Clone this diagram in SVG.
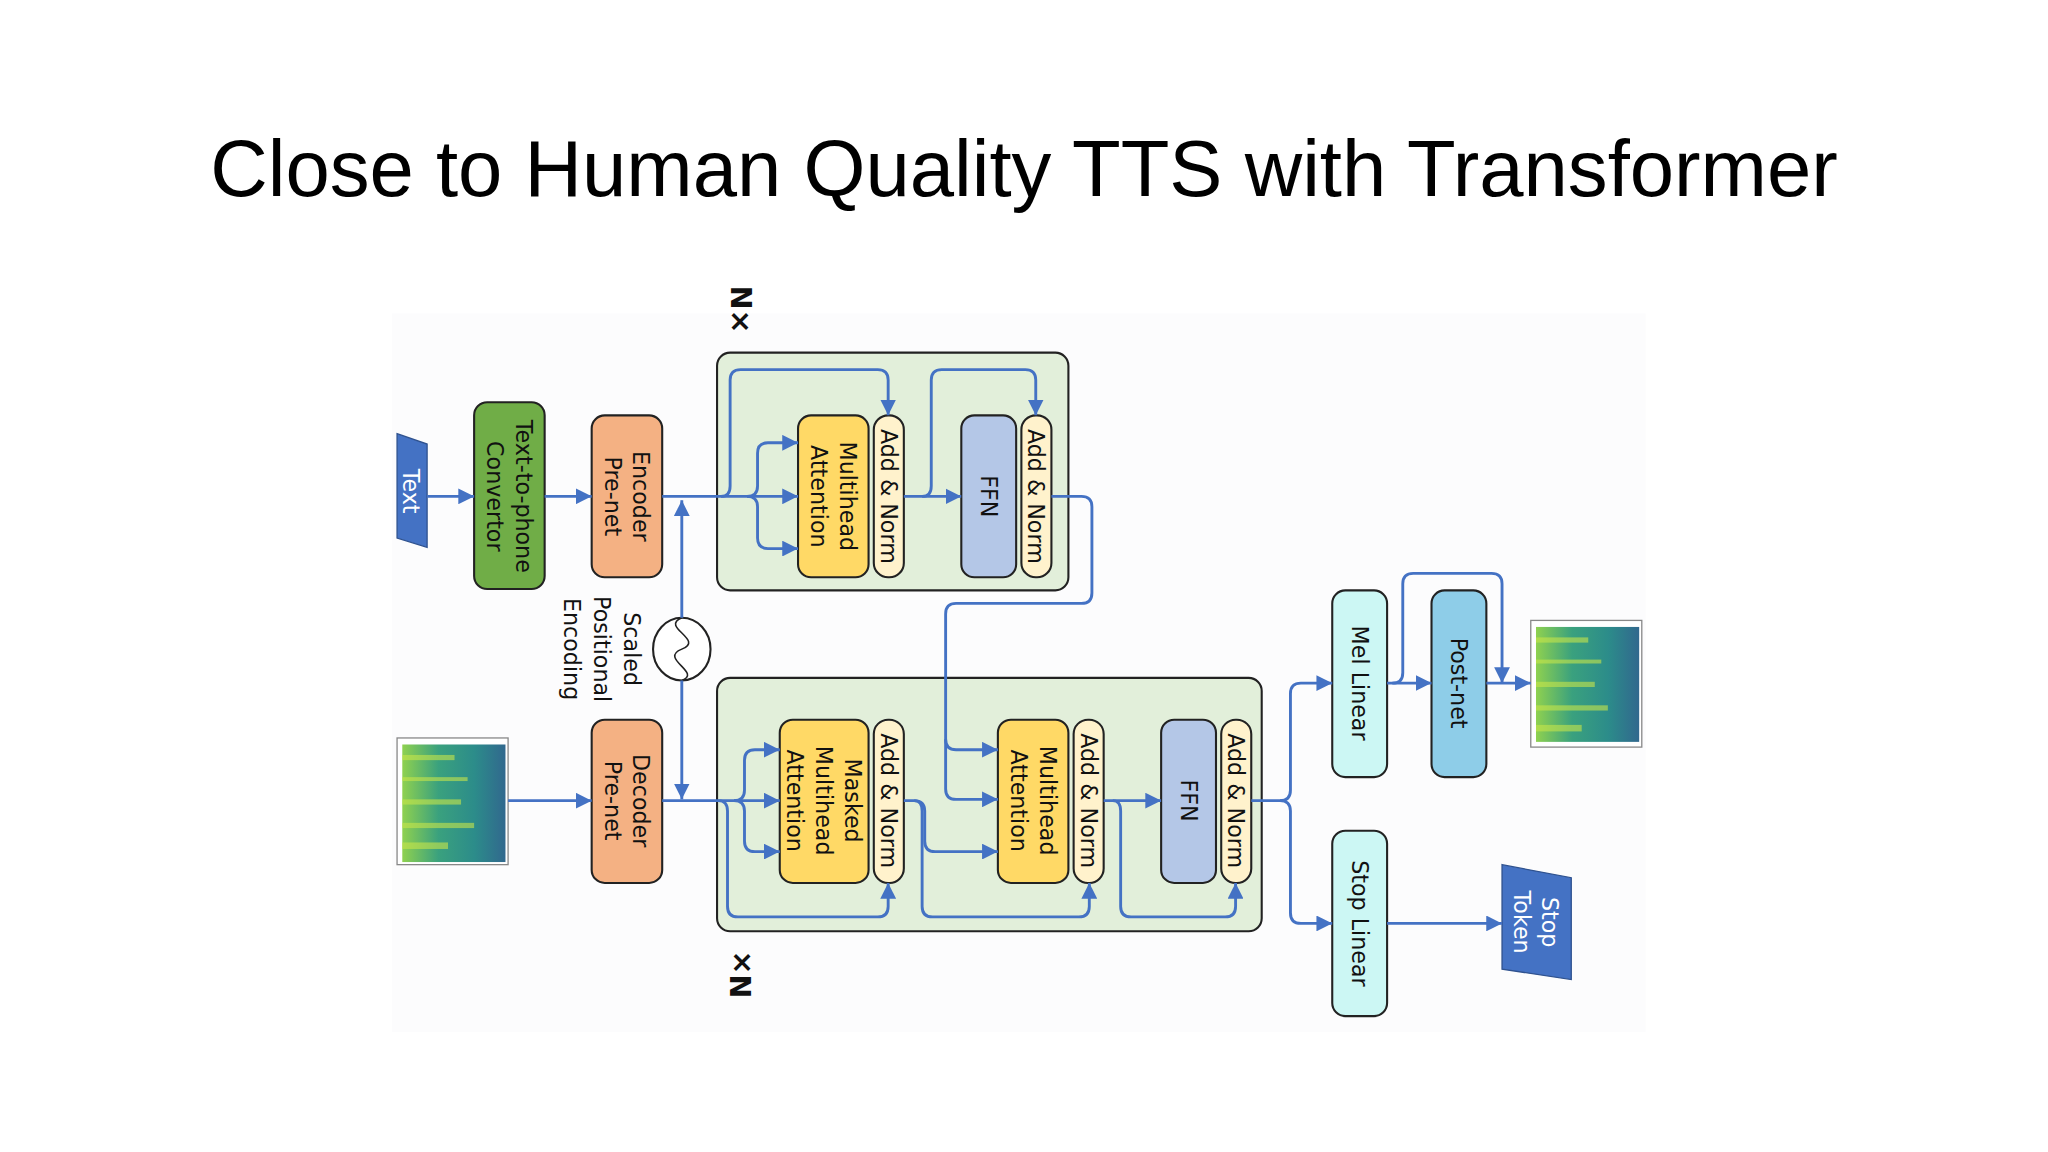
<svg xmlns="http://www.w3.org/2000/svg" width="2048" height="1152" viewBox="0 0 2048 1152">
<defs>
<marker id="ar" viewBox="0 0 10 10" markerWidth="5.5" markerHeight="5.5" refX="10" refY="5" orient="auto"><path d="M0 0L10 5L0 10z" fill="#4472c4"/></marker>
<linearGradient id="spec" x1="0" y1="0" x2="1" y2="0"><stop offset="0" stop-color="#8fd14f"/><stop offset="0.35" stop-color="#3aa17e"/><stop offset="0.7" stop-color="#2c8c8a"/><stop offset="1" stop-color="#31688e"/></linearGradient>
</defs>
<style>
.n{stroke:#222;stroke-width:1.6}
.t{font-family:"DejaVu Sans",Verdana,sans-serif;font-size:17px;fill:#111;text-anchor:middle;dominant-baseline:central}
.c{fill:none;stroke:#4472c4;stroke-width:2.2}
.a{marker-end:url(#ar)}
</style>
<rect width="2048" height="1152" fill="#fff"/>
<g transform="scale(1.30612)">
<text x="784" y="150" font-family="Liberation Sans,Arial,sans-serif" font-size="61" text-anchor="middle" fill="#000">Close to Human Quality TTS with Transformer</text>
<rect x="300" y="240" width="960" height="550" fill="#fcfcfd"/>
<g id="enc-block"><rect class="n" x="549" y="270" width="269" height="182" rx="10" fill="#e2efda"/></g>
<g id="dec-block"><rect class="n" x="549" y="519" width="417" height="194" rx="10" fill="#e2efda"/></g>
<text class="t" transform="translate(567,237) rotate(90)" font-weight="bold" style="font-size:22px">N×</text>
<text class="t" transform="translate(567,746) rotate(-90)" font-weight="bold" style="font-size:22px">N×</text>
<g id="text"><path d="M304 332L327 340V419L304 412Z" fill="#4472c4" stroke="#2f528f" stroke-width="1"/><text class="t" transform="translate(315,376) rotate(90)" style="fill:#fff">Text</text></g>
<g id="t2p"><rect class="n" x="363" y="308" width="54" height="143" rx="10" fill="#70ad47"/><text class="t" transform="translate(390,380) rotate(90)"><tspan x="0" y="-11">Text-to-phone</tspan><tspan x="0" y="11">Convertor</tspan></text></g>
<g id="encpre"><rect class="n" x="453" y="318" width="54" height="124" rx="10" fill="#f4b183"/><text class="t" transform="translate(480,380) rotate(90)"><tspan x="0" y="-11">Encoder</tspan><tspan x="0" y="11">Pre-net</tspan></text></g>
<g id="enc-mha"><rect class="n" x="611" y="318" width="54" height="124" rx="10" fill="#ffd966"/><text class="t" transform="translate(638,380) rotate(90)"><tspan x="0" y="-11">Multihead</tspan><tspan x="0" y="11">Attention</tspan></text></g>
<g id="enc-an1"><rect class="n" x="669" y="318" width="23" height="124" rx="11" fill="#fff2cc"/><text class="t" transform="translate(680.5,380) rotate(90)">Add &amp; Norm</text></g>
<g id="enc-ffn"><rect class="n" x="736" y="318" width="42" height="124" rx="10" fill="#b4c7e7"/><text class="t" transform="translate(757,380) rotate(90)">FFN</text></g>
<g id="enc-an2"><rect class="n" x="782" y="318" width="23" height="124" rx="11" fill="#fff2cc"/><text class="t" transform="translate(793.5,380) rotate(90)">Add &amp; Norm</text></g>
<g id="posenc"><ellipse cx="522" cy="497" rx="22" ry="24" fill="#fff" stroke="#222" stroke-width="1.6"/><path d="M522 473C505 480 540 490 522 497S538 515 522 521" fill="none" stroke="#222" stroke-width="1.2"/><text class="t" transform="translate(461,497) rotate(90)"><tspan x="0" y="-23">Scaled</tspan><tspan x="0" y="0">Positional</tspan><tspan x="0" y="23">Encoding</tspan></text></g>
<g id="spec-in"><rect x="304" y="565" width="85" height="97" fill="#fff" stroke="#888"/><rect x="308" y="570" width="79" height="90" fill="url(#spec)"/><g fill="#c8e64a" opacity="0.6"><rect x="308" y="578" width="40" height="4"/><rect x="308" y="595" width="50" height="3"/><rect x="308" y="612" width="45" height="4"/><rect x="308" y="630" width="55" height="4"/><rect x="308" y="645" width="35" height="5"/></g></g>
<g id="decpre"><rect class="n" x="453" y="551" width="54" height="125" rx="10" fill="#f4b183"/><text class="t" transform="translate(480,613) rotate(90)"><tspan x="0" y="-11">Decoder</tspan><tspan x="0" y="11">Pre-net</tspan></text></g>
<g id="dec-mmha"><rect class="n" x="597" y="551" width="68" height="125" rx="10" fill="#ffd966"/><text class="t" transform="translate(631,613) rotate(90)"><tspan x="0" y="-22">Masked</tspan><tspan x="0" y="0">Multihead</tspan><tspan x="0" y="22">Attention</tspan></text></g>
<g id="dec-an1"><rect class="n" x="669" y="551" width="23" height="125" rx="11" fill="#fff2cc"/><text class="t" transform="translate(680.5,613) rotate(90)">Add &amp; Norm</text></g>
<g id="dec-mha"><rect class="n" x="764" y="551" width="54" height="125" rx="10" fill="#ffd966"/><text class="t" transform="translate(791,613) rotate(90)"><tspan x="0" y="-11">Multihead</tspan><tspan x="0" y="11">Attention</tspan></text></g>
<g id="dec-an2"><rect class="n" x="822" y="551" width="23" height="125" rx="11" fill="#fff2cc"/><text class="t" transform="translate(833.5,613) rotate(90)">Add &amp; Norm</text></g>
<g id="dec-ffn"><rect class="n" x="889" y="551" width="42" height="125" rx="10" fill="#b4c7e7"/><text class="t" transform="translate(910,613) rotate(90)">FFN</text></g>
<g id="dec-an3"><rect class="n" x="935" y="551" width="23" height="125" rx="11" fill="#fff2cc"/><text class="t" transform="translate(946.5,613) rotate(90)">Add &amp; Norm</text></g>
<g id="mel"><rect class="n" x="1020" y="452" width="42" height="143" rx="10" fill="#ccf7f4"/><text class="t" transform="translate(1041,523) rotate(90)">Mel Linear</text></g>
<g id="post"><rect class="n" x="1096" y="452" width="42" height="143" rx="10" fill="#8ecde8"/><text class="t" transform="translate(1117,523) rotate(90)">Post-net</text></g>
<g id="stop"><rect class="n" x="1020" y="636" width="42" height="142" rx="10" fill="#ccf7f4"/><text class="t" transform="translate(1041,707) rotate(90)">Stop Linear</text></g>
<g id="spec-out"><rect x="1172" y="475" width="85" height="97" fill="#fff" stroke="#888"/><rect x="1176" y="480" width="79" height="88" fill="url(#spec)"/><g fill="#c8e64a" opacity="0.6"><rect x="1176" y="488" width="40" height="4"/><rect x="1176" y="505" width="50" height="3"/><rect x="1176" y="522" width="45" height="4"/><rect x="1176" y="540" width="55" height="4"/><rect x="1176" y="555" width="35" height="5"/></g></g>
<g id="stoptoken"><path d="M1150 662L1203 672V750L1150 742Z" fill="#4472c4" stroke="#2f528f" stroke-width="1"/><text class="t" transform="translate(1176,706) rotate(90)" style="fill:#fff"><tspan x="0" y="-11">Stop</tspan><tspan x="0" y="11">Token</tspan></text></g>
<g id="connectors">
<path class="c a" d="M327 380H363"/>
<path class="c a" d="M417 380H453"/>
<path class="c a" d="M507 380H611"/>
<path class="c a" d="M572 380Q580 380 580 372V347Q580 339 588 339H611"/>
<path class="c a" d="M572 380Q580 380 580 388V412Q580 420 588 420H611"/>
<path class="c a" d="M552 380Q559 380 559 372V291Q559 283 567 283H672Q680 283 680 291V318"/>
<path class="c a" d="M692 380H736"/>
<path class="c a" d="M706 380Q713 380 713 372V291Q713 283 721 283H785Q793 283 793 291V318"/>
<path class="c a" d="M805 380H828Q836 380 836 388V454Q836 462 828 462H732Q724 462 724 470V604Q724 612 732 612H764"/>
<path class="c a" d="M724 566Q724 574 732 574H764"/>
<path class="c a" d="M522 473V383"/>
<path class="c a" d="M522 521V612"/>
<path class="c a" d="M389 613H453"/>
<path class="c a" d="M507 613H597"/>
<path class="c a" d="M562 613Q570 613 570 605V582Q570 574 578 574H597"/>
<path class="c a" d="M562 613Q570 613 570 621V644Q570 652 578 652H597"/>
<path class="c a" d="M550 613Q557 613 557 621V694Q557 702 565 702H672Q680 702 680 694V676"/>
<path class="c a" d="M692 613H700Q708 613 708 621V644Q708 652 716 652H764"/>
<path class="c a" d="M700 613Q706 613 706 621V694Q706 702 714 702H826Q834 702 834 694V676"/>
<path class="c a" d="M845 613H889"/>
<path class="c a" d="M852 613Q858 613 858 621V694Q858 702 866 702H938Q946 702 946 694V676"/>
<path class="c a" d="M958 613H980Q988 613 988 605V531Q988 523 996 523H1020"/>
<path class="c a" d="M980 613Q988 613 988 621V699Q988 707 996 707H1020"/>
<path class="c a" d="M1062 523H1096"/>
<path class="c a" d="M1066 523Q1074 523 1074 515V447Q1074 439 1082 439H1142Q1150 439 1150 447V523"/>
<path class="c a" d="M1138 523H1172"/>
<path class="c a" d="M1062 707H1150"/>
</g>
</g>
</svg>
